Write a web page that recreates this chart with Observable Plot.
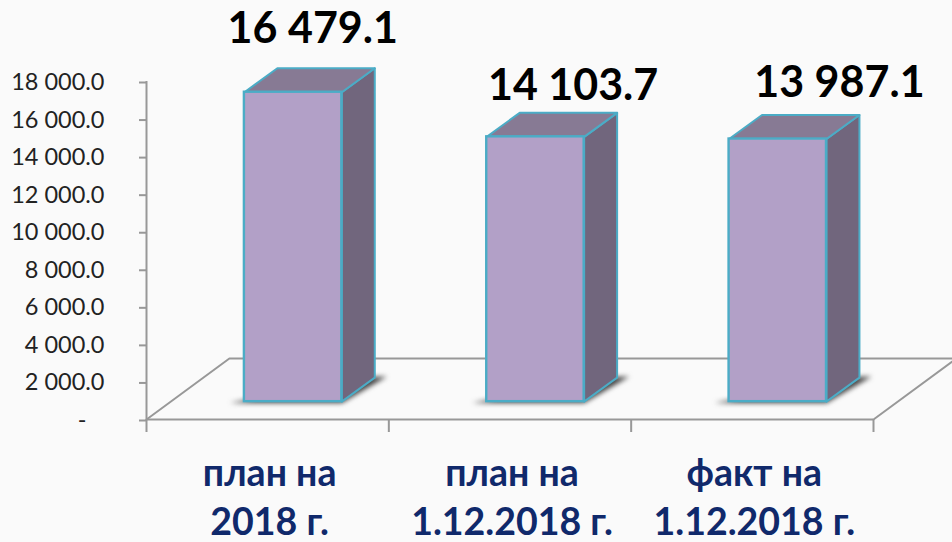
<!DOCTYPE html>
<html><head><meta charset="utf-8">
<script src="https://cdn.jsdelivr.net/npm/d3@7"></script>
<script src="https://cdn.jsdelivr.net/npm/@observablehq/plot@0.6"></script>
<style>html,body{margin:0;padding:0;background:#fafafa;overflow:hidden}svg{display:block}</style>
</head><body><div id="c"></div>
<script>
const categories = ["план на\n2018 г.", "план на\n1.12.2018 г.", "факт на\n1.12.2018 г."];
const values = [16479.1, 14103.7, 13987.1];
const valueLabels = ["16 479.1", "14 103.7", "13 987.1"];
const yTicks = [0,2000,4000,6000,8000,10000,12000,14000,16000,18000];

// pseudo-3D projection, in scale units
const barLeft = 0.404, barW = 0.402, depthX = 0.136, depthY = 1278, floorY = 950;
const floorDX = 0.342, floorDY = 3250;
const labelNudge = [[-62,-39],[-44,-27],[-20,-32]];

const order = values.map((v,i)=>({v,i}));
const face = (pts,i)=>pts.map(([x,y])=>({x,y,i}));
const front = order.map(({v,i})=>({x1:i+barLeft,x2:i+barLeft+barW,y1:floorY,y2:floorY+v}));
const side = order.flatMap(({v,i})=>{const r=i+barLeft+barW;return face([[r,floorY],[r+depthX,floorY+depthY],[r+depthX,floorY+depthY+v],[r,floorY+v]],i);});
const top_ = order.flatMap(({v,i})=>{const l=i+barLeft,r=l+barW,t=floorY+v;return face([[l,t],[r,t],[r+depthX,t+depthY],[l+depthX,t+depthY]],i);});
const shadow = order.flatMap(({i})=>{const l=i+barLeft,r=l+barW;return face([[l-0.06,floorY-70],[r,floorY-70],[r+depthX+0.05,floorY+depthY+60],[r,floorY+depthY],[l,floorY+80]],i);});

const line = "#989898", teal = "#4bacc6";
const chart = Plot.plot({
  width: 952, height: 542,
  marginLeft: 146, marginRight: 79, marginTop: 81, marginBottom: 123,
  style: {background:"#fafafa", fontFamily:"Lato, 'Open Sans', sans-serif", overflow:"visible"},
  x: {type:"linear", domain:[0,3]},
  y: {domain:[0,18000]},
  marks: [
    Plot.axisY({ticks:yTicks, tickSize:7, tickPadding:35, stroke:line, strokeWidth:2,
      tickFormat:d=> d===0 ? "-\u00a0\u00a0\u00a0" : d3.format(",.1f")(d).replace(",", " "),
      fontSize:23.5, fill:"#222", label:null, marginLeft:146, dy:1}),
    Plot.axisX({ticks:[0,1,2,3], tickSize:13, tickFormat:()=>"", stroke:line, strokeWidth:2, label:null}),
    Plot.ruleY([0],{stroke:line, strokeWidth:2}),
    Plot.ruleX([0],{stroke:line, strokeWidth:2}),
    Plot.line([{x:0,y:0},{x:floorDX,y:floorDY},{x:3+floorDX,y:floorDY}],{x:"x",y:"y",stroke:line,strokeWidth:2,clip:false}),
    Plot.line([{x:3,y:0},{x:3+floorDX,y:floorDY}],{x:"x",y:"y",stroke:line,strokeWidth:2}),
    Plot.line(shadow,{x:"x",y:"y",z:"i",fill:"#444",stroke:null,curve:"linear-closed",imageFilter:"blur(2.5px)"}),
    Plot.line(side,{x:"x",y:"y",z:"i",fill:"#71667d",stroke:teal,strokeWidth:2,curve:"linear-closed"}),
    Plot.line(top_,{x:"x",y:"y",z:"i",fill:"#877a94",stroke:teal,strokeWidth:2,curve:"linear-closed"}),
    Plot.rect(front,{x1:"x1",x2:"x2",y1:"y1",y2:"y2",fill:"#b2a0c7",stroke:teal,strokeWidth:2.4}),
    ...values.map((v,i)=>Plot.text([valueLabels[i]],{
      x:()=>i+barLeft+barW+depthX, y:()=>floorY+depthY+v, text:d=>d,
      dx:labelNudge[i][0], dy:labelNudge[i][1], fontSize:43, fontWeight:700, fill:"#000", stroke:"none"})),
    Plot.text(categories,{x:(d,i)=>i+0.5, y:()=>0, text:d=>d, lineAnchor:"top", dy:32, dx:2, lineHeight:1.3,
      fontSize:37.5, fontWeight:700, fill:"#10296b"})
  ]
});
document.getElementById("c").appendChild(chart);
</script></body></html>
